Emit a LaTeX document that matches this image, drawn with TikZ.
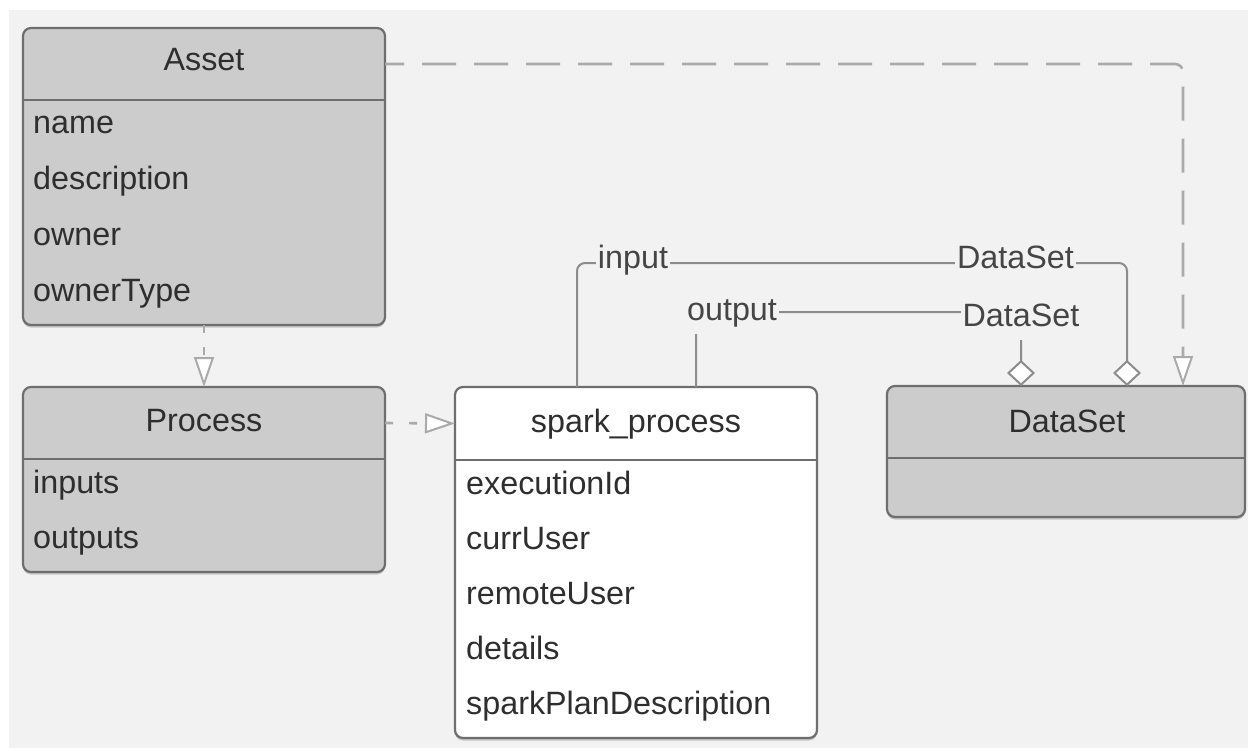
\documentclass[tikz,border=0pt]{standalone}
\usepackage{fontspec}
\setmainfont{Liberation Sans}
\usetikzlibrary{arrows.meta,shadows}
\definecolor{bg}{HTML}{F2F2F2}
\definecolor{boxfill}{HTML}{CCCCCC}
\definecolor{boxline}{HTML}{6E6E6E}
\definecolor{conn}{HTML}{8C8C8C}
\definecolor{dashc}{HTML}{AAAAAA}
\definecolor{txt}{HTML}{2E2E2E}
\definecolor{lbltxt}{HTML}{454545}
\begin{document}
\begin{tikzpicture}[x=1pt,y=-1pt,
  classbox/.style={draw=boxline, line width=2.2pt, rounded corners=8pt, inner sep=0pt, outer sep=0pt,
    drop shadow={shadow xshift=0pt, shadow yshift=-2.5pt, opacity=0.35, fill=black!55}},
  headbox/.style={inner sep=0pt, outer sep=0pt, minimum height=72pt},
  sepline/.style={draw=boxline, line width=2.2pt},
  title/.style={anchor=base, inner sep=0pt, text=txt, font=\fontsize{32.3pt}{38pt}\selectfont},
  item/.style={anchor=base west, inner sep=0pt, text=txt, font=\fontsize{32.3pt}{38pt}\selectfont},
  lbl/.style={anchor=base, fill=bg, text=lbltxt, inner xsep=2pt, inner ysep=7pt, text depth=7pt,
    font=\fontsize{32.3pt}{38pt}\selectfont},
  conn/.style={draw=conn, line width=2pt, rounded corners=8pt},
  dashconn/.style={draw=dashc, line width=2.6pt, rounded corners=8pt},
  gen/.style={-{Triangle[length=30pt,width=20pt,fill=white,line width=2pt]}},
  agg/.style={-{Diamond[length=26pt,width=28pt,fill=white,line width=2pt]}}
]
\useasboundingbox (0,0) rectangle (1248,750);
\fill[white] (0,0) rectangle (1248,750);
\fill[bg] (9,10) rectangle (1248,748);

% Asset
\node[classbox, fill=boxfill, minimum width=362pt, minimum height=297pt] (asset) at (204,176.5) {};
\node[headbox, anchor=north, minimum width=362pt] (assethead) at (asset.north) {};
\draw[sepline] (assethead.south west) -- (assethead.south east);
\node[title] (assett) at (204,70.5) {Asset};
\node[item] (a1) at (33,133) {name};
\node[item] (a2) at (33,189) {description};
\node[item] (a3) at (33,245) {owner};
\node[item] (a4) at (33,301) {ownerType};

% Process
\node[classbox, fill=boxfill, minimum width=362pt, minimum height=185pt] (process) at (204,479.5) {};
\node[headbox, anchor=north, minimum width=362pt] (processhead) at (process.north) {};
\draw[sepline] (processhead.south west) -- (processhead.south east);
\node[title] (processt) at (204,431.5) {Process};
\node[item] (p1) at (33,493) {inputs};
\node[item] (p2) at (33,548) {outputs};

% spark_process
\node[classbox, fill=white, minimum width=362pt, minimum height=351pt] (spark) at (636,562.5) {};
\node[headbox, anchor=north, minimum width=362pt, minimum height=73pt] (sparkhead) at (spark.north) {};
\draw[sepline] (sparkhead.south west) -- (sparkhead.south east);
\node[title] (sparkt) at (636,432) {spark\_process};
\node[item] (s1) at (466,494) {executionId};
\node[item] (s2) at (466,549) {currUser};
\node[item] (s3) at (466,604) {remoteUser};
\node[item] (s4) at (466,659) {details};
\node[item] (s5) at (466,714) {sparkPlanDescription};

% DataSet
\node[classbox, fill=boxfill, minimum width=358pt, minimum height=131pt] (dataset) at (1066,451.5) {};
\node[headbox, anchor=north, minimum width=358pt] (datasethead) at (dataset.north) {};
\draw[sepline] (datasethead.south west) -- (datasethead.south east);
\node[title] (datasett) at (1067,432) {DataSet};

% connectors
\coordinate (inrow) at (850,263);
\coordinate (outrow) at (850,312);
\draw[conn, agg] ([xshift=-59pt]spark.north) |- (inrow) -| ([xshift=61pt]dataset.north);
\draw[conn, agg] ([xshift=60pt]spark.north) |- (outrow) -| ([xshift=-45pt]dataset.north);

\draw[dashconn, gen, dash pattern=on 8pt off 14pt] (asset.south) -- (process.north);
\draw[dashconn, gen, dash pattern=on 8pt off 16pt] (processhead.east) -- (sparkhead.west);
\draw[dashconn, gen, dash pattern=on 34pt off 18pt, dash phase=15pt]
  (assethead.east) -| ([xshift=117pt]dataset.north);

% labels
\node[lbl] (inlbl) at (633,268) {input};
\node[lbl] (ds1lbl) at (1015.5,268) {DataSet};
\node[lbl] (outlbl) at (732,320) {output};
\node[lbl] (ds2lbl) at (1021,326) {DataSet};
\end{tikzpicture}
\end{document}
